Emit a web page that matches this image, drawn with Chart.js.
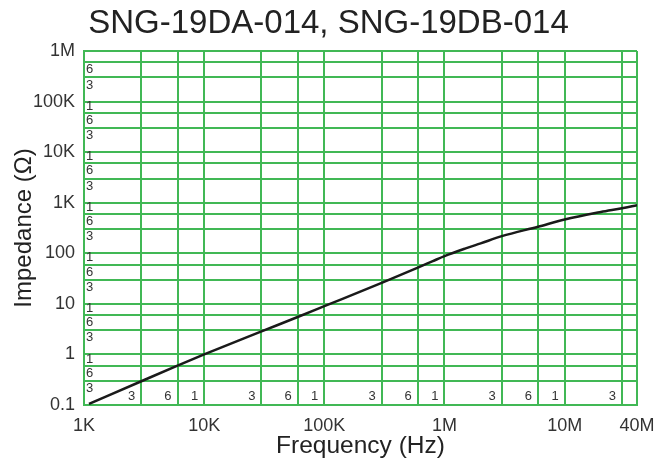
<!DOCTYPE html>
<html>
<head>
<meta charset="utf-8">
<script src="https://cdn.jsdelivr.net/npm/chart.js@4.4.1/dist/chart.umd.min.js"></script>
<style>
  html, body { margin: 0; padding: 0; background: #fff; }
</style>
</head>
<body>
<canvas id="chart" width="657" height="466"></canvas>
<script>
// impedance curve
const freqHz = [1100, 3000, 6000, 1e4, 3e4, 6e4, 1e5, 3e5, 6e5, 8e5, 1e6, 1.5e6, 2e6, 3e6, 6e6, 1e7, 2e7, 3e7, 4e7];
const impedanceOhm = [0.105, 0.295, 0.6, 1.0, 2.85, 5.5, 9.0, 26, 52, 70, 88, 125, 157, 218, 335, 465, 655, 780, 895];

// grid lines (1-3-6 per decade) and their labels
const xTickValues = [1e3, 3e3, 6e3, 1e4, 3e4, 6e4, 1e5, 3e5, 6e5, 1e6, 3e6, 6e6, 1e7, 3e7, 4e7];
const xTickLabels = ['1K', '', '', '10K', '', '', '100K', '', '', '1M', '', '', '10M', '', '40M'];
const xMinorText  = ['', '3', '6', '1', '3', '6', '1', '3', '6', '1', '3', '6', '1', '3', ''];

const yTickValues = [0.1, 0.3, 0.6, 1, 3, 6, 10, 30, 60, 100, 300, 600, 1e3, 3e3, 6e3, 1e4, 3e4, 6e4, 1e5, 3e5, 6e5, 1e6];
const yTickLabels = ['0.1', '', '', '1', '', '', '10', '', '', '100', '', '', '1K', '', '', '10K', '', '', '100K', '', '', '1M'];
const yMinorText  = ['', '3', '6', '1', '3', '6', '1', '3', '6', '1', '3', '6', '1', '3', '6', '1', '3', '6', '1', '3', '6', ''];

const GREEN = '#41b855';
const FONT = '"Liberation Sans", Arial, Helvetica, sans-serif';

Chart.defaults.font.family = FONT;

// small 3 / 6 / 1 marks printed inside the grid
const minorLabels = {
    id: 'minorLabels',
    beforeDatasetsDraw(chart) {
        const { ctx, chartArea, scales } = chart;
        ctx.save();
        ctx.font = '13px ' + FONT;
        ctx.fillStyle = '#333';
        ctx.textBaseline = 'middle';

        ctx.textAlign = 'left';
        yTickValues.forEach((v, i) => {
            const t = yMinorText[i];
            if (!t) return;
            const py = scales.y.getPixelForValue(v) + (t === '1' ? 4.5 : 7.5);
            ctx.fillText(t, chartArea.left + 2, py);
        });

        ctx.textAlign = 'right';
        xTickValues.forEach((v, i) => {
            const t = xMinorText[i];
            if (!t) return;
            ctx.fillText(t, scales.x.getPixelForValue(v) - 6, chartArea.bottom - 8.5);
        });
        ctx.restore();
    }
};

function makeChart() {
    const ctx = document.getElementById('chart').getContext('2d');
    return new Chart(ctx, {
        type: 'line',
        data: {
            datasets: [{
                data: freqHz.map((f, i) => ({ x: f, y: impedanceOhm[i] })),
                borderColor: '#1a1a1a',
                borderWidth: 2.5,
                pointRadius: 0,
                cubicInterpolationMode: 'monotone',
                fill: false
            }]
        },
        options: {
            responsive: false,
            animation: false,
            devicePixelRatio: 1,
            layout: { padding: 0 },
            plugins: {
                legend: { display: false },
                tooltip: { enabled: false },
                title: {
                    display: true,
                    text: 'SNG-19DA-014, SNG-19DB-014',
                    color: '#222',
                    font: { size: 33, weight: 'normal' },
                    padding: { top: 4, bottom: 7.4 }
                }
            },
            scales: {
                x: {
                    type: 'logarithmic',
                    min: 1000,
                    max: 4e7,
                    afterBuildTicks: s => { s.ticks = xTickValues.map(v => ({ value: v })); },
                    afterFit: s => { s.height = 61; s.paddingLeft = 0; s.paddingRight = 20; },
                    ticks: {
                        autoSkip: false,
                        maxRotation: 0,
                        padding: 10,
                        color: '#333',
                        font: { size: 18 },
                        callback: (v, i) => xTickLabels[i]
                    },
                    grid: { color: GREEN, lineWidth: 2, drawTicks: false },
                    border: { color: GREEN, width: 2 },
                    title: {
                        display: true,
                        text: 'Frequency (Hz)',
                        color: '#222',
                        font: { size: 24.5 },
                        padding: { top: 0, bottom: 5 }
                    }
                },
                y: {
                    type: 'logarithmic',
                    min: 0.1,
                    max: 1e6,
                    afterBuildTicks: s => { s.ticks = yTickValues.map(v => ({ value: v })); },
                    afterFit: s => { s.width = 84; },
                    ticks: {
                        autoSkip: false,
                        padding: 9,
                        color: '#333',
                        font: { size: 18 },
                        callback: (v, i) => yTickLabels[i]
                    },
                    grid: { color: GREEN, lineWidth: 2, drawTicks: false },
                    border: { color: GREEN, width: 2 },
                    title: {
                        display: true,
                        text: 'Impedance (Ω)',
                        color: '#222',
                        font: { size: 24 },
                        padding: { top: 10, bottom: 0 }
                    }
                }
            }
        },
        plugins: [minorLabels]
    });
}

window.onload = function () {
    makeChart();
};
</script>
</body>
</html>
